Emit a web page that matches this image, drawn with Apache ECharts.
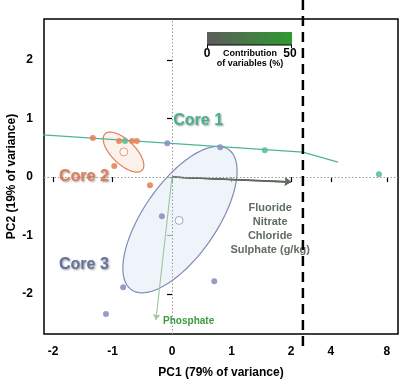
<!DOCTYPE html>
<html>
<head>
<meta charset="utf-8">
<script src="https://cdn.jsdelivr.net/npm/echarts@6/dist/echarts.min.js"></script>
<style>
  html, body { margin: 0; padding: 0; background: #fff; }
  #chart { width: 400px; height: 383px; }
</style>
</head>
<body>
<div id="chart"></div>
<script>
// PC1 / PC2 scores
const core1Points = [[-0.79, 0.615], [1.56, 0.46], [7.43, 0.05]];
const core2Points = [[-1.33, 0.667], [-0.89, 0.615], [-0.67, 0.615], [-0.59, 0.615], [-0.97, 0.19], [-0.37, -0.14]];
const core3Points = [[-0.08, 0.58], [0.81, 0.51], [-0.17, -0.67], [-0.82, -1.88], [0.71, -1.78], [-1.11, -2.34]];
const core2Centre = [[-0.81, 0.43]];
const core3Centre = [[0.12, -0.74]];
const core1Trend = [[-2.3, 0.73], [2.2, 0.427], [4.5, 0.256]];
// ellipses: centre x, centre y, semi-major, semi-minor, angle (deg)
const core2Ellipse = [-0.815, 0.427, 0.44, 0.2, -45];
const core3Ellipse = [0.134, -0.726, 1.45, 0.62, 56];
// loadings
const groupedVars = ['Fluoride', 'Nitrate', 'Chloride', 'Sulphate (g/kg)'];
const groupedEnds = [[2.0, -0.08], [2.0, -0.085], [1.99, -0.09], [2.0, -0.075]];
const phosphateEnd = [-0.27, -2.44];
const xTicks = [-2, -1, 0, 1, 2, 4, 8];
const yTicks = [-2, -1, 0, 1, 2];

// broken x axis: linear up to 2.2, compressed after it
const BREAK = 2.2;
const toU = v => v <= BREAK ? v : BREAK + (v - 2) * 0.2353;
const conv = arr => arr.map(p => [toU(p[0]), p[1]]);
const xTickU = xTicks.map(toU);

const font = 'Liberation Sans, Arial, sans-serif';
const chart = echarts.init(document.getElementById('chart'));

function ellipseItem(par, stroke, fill) {
  return function (params, api) {
    const pts = [];
    const t = par[4] * Math.PI / 180;
    for (let i = 0; i < 90; i++) {
      const a = i / 90 * Math.PI * 2;
      const x = par[2] * Math.cos(a), y = par[3] * Math.sin(a);
      pts.push(api.coord([par[0] + x * Math.cos(t) - y * Math.sin(t),
                          par[1] + x * Math.sin(t) + y * Math.cos(t)]));
    }
    return { type: 'polygon', shape: { points: pts },
             style: { fill: fill, stroke: stroke, lineWidth: 1.2 } };
  };
}

const option = {
  animation: false,
  grid: { left: 44, right: 2, top: 19, bottom: 49, show: true, borderColor: '#000', borderWidth: 1.5,
          containLabel: false, outerBoundsMode: 'none' },
  xAxis: {
    type: 'value', min: -2.151, max: 3.798,
    name: 'PC1 (79% of variance)', nameLocation: 'middle', nameGap: 33, nameMoveOverlap: false,
    nameTextStyle: { fontFamily: font, fontWeight: 'bold', fontSize: 12, color: '#000' },
    axisLine: { show: false },
    axisTick: { show: true, inside: false, length: 5, customValues: xTickU, lineStyle: { color: '#000', width: 1.2 } },
    axisLabel: { customValues: xTickU, margin: 12, fontFamily: font, fontWeight: 'bold', fontSize: 12, color: '#000',
      formatter: v => { const i = xTickU.findIndex(u => Math.abs(u - v) < 1e-6); return i >= 0 ? String(xTicks[i]) : ''; } },
    splitLine: { show: false }
  },
  yAxis: {
    type: 'value', min: -2.68, max: 2.70,
    name: 'PC2 (19% of variance)', nameLocation: 'middle', nameGap: 26, nameMoveOverlap: false,
    nameTextStyle: { fontFamily: font, fontWeight: 'bold', fontSize: 12, color: '#000' },
    axisLine: { show: false },
    axisTick: { show: true, inside: false, length: 5, customValues: yTicks, lineStyle: { color: '#000', width: 1.2 } },
    axisLabel: { customValues: yTicks, margin: 11, fontFamily: font, fontWeight: 'bold', fontSize: 12, color: '#000' },
    splitLine: { show: false }
  },
  series: [
    { type: 'custom', renderItem: ellipseItem(core3Ellipse, '#7f8cb4', 'rgba(232,238,248,0.7)'), data: [0], z: 1 },
    { type: 'custom', renderItem: ellipseItem(core2Ellipse, '#e0805f', 'rgba(252,236,226,0.7)'), data: [0], z: 1 },
    {
      type: 'line', data: conv(core1Trend), showSymbol: false, symbol: 'none', z: 2,
      lineStyle: { color: '#4db597', width: 1.3 },
      markLine: {
        silent: true, symbol: 'none', label: { show: false },
        lineStyle: { color: '#999', type: [1.5, 2], width: 1 },
        data: [{ xAxis: 0 }, { yAxis: 0 }]
      }
    },
    {
      type: 'lines', coordinateSystem: 'cartesian2d', z: 3,
      symbol: ['none', 'arrow'], symbolSize: [0, 6],
      lineStyle: { color: '#5e6b5e', width: 1.2, opacity: 1 },
      data: groupedEnds.map(e => ({ coords: [[0, 0], e] }))
    },
    {
      type: 'lines', coordinateSystem: 'cartesian2d', z: 3,
      symbol: ['none', 'arrow'], symbolSize: [0, 6],
      lineStyle: { color: '#9cc89c', width: 1.1, opacity: 1 },
      data: [{ coords: [[0, 0], phosphateEnd] }]
    },
    { type: 'scatter', data: conv(core2Points), symbolSize: 6, z: 4, itemStyle: { color: '#e8845e', opacity: 0.9 } },
    { type: 'scatter', data: conv(core3Points), symbolSize: 6, z: 4, itemStyle: { color: '#8892c4', opacity: 0.9 } },
    { type: 'scatter', data: conv(core1Points), symbolSize: 6, z: 4, itemStyle: { color: '#5cbf9f', opacity: 0.9 } },
    { type: 'scatter', data: core2Centre, symbolSize: 8, z: 4, itemStyle: { color: '#fff', borderColor: '#e0805f', borderWidth: 1 } },
    { type: 'scatter', data: core3Centre, symbolSize: 8, z: 4, itemStyle: { color: '#fff', borderColor: '#8892c4', borderWidth: 1 } }
  ]
};
chart.setOption(option);

// annotations placed from data coordinates
const px = (x, y) => chart.convertToPixel({ gridIndex: 0 }, [x, y]);
const breakX = px(BREAK, 0)[0];
const coreText = (txt, pos, color) => ({
  type: 'text', x: pos[0], y: pos[1], z: 20,
  style: { text: txt, fill: color, font: 'bold 16px ' + font, align: 'center', verticalAlign: 'middle',
           textShadowColor: 'rgba(0,0,0,0.4)', textShadowBlur: 2, textShadowOffsetX: 1, textShadowOffsetY: 1 }
});
const p1 = px(0.44, 0.96), p2 = px(-1.48, 0.0), p3 = px(-1.48, -1.5);
const lab = px(1.65, -0.4);
const ph = px(-0.15, -2.46);
chart.setOption({
  graphic: [
    coreText('Core 1', p1, '#46b08f'),
    coreText('Core 2', p2, '#e27d58'),
    coreText('Core 3', p3, '#66719f'),
    { type: 'text', x: lab[0], y: lab[1], z: 20,
      style: { text: groupedVars.join('\n'), fill: '#5f6e5f', font: 'bold 11px ' + font,
               align: 'center', verticalAlign: 'top', lineHeight: 14 } },
    { type: 'text', x: ph[0], y: ph[1], z: 20,
      style: { text: 'Phosphate', fill: '#3e9a3e', font: 'bold 10px ' + font, align: 'left', verticalAlign: 'middle' } },
    { type: 'line', z: 30, shape: { x1: breakX, y1: 0, x2: breakX, y2: 352 },
      style: { stroke: '#000', lineWidth: 2.5, lineDash: [10, 6] } },
    { type: 'rect', z: 20, shape: { x: 207, y: 32, width: 85, height: 13 },
      style: { fill: new echarts.graphic.LinearGradient(0, 0, 1, 0, [
        { offset: 0, color: '#5c5c5c' }, { offset: 1, color: '#2f9a2f' }]) } },
    { type: 'line', z: 21, shape: { x1: 207, y1: 45, x2: 292, y2: 45 }, style: { stroke: '#000', lineWidth: 1 } },
    { type: 'line', z: 21, shape: { x1: 207.5, y1: 45, x2: 207.5, y2: 48 }, style: { stroke: '#000', lineWidth: 1 } },
    { type: 'line', z: 21, shape: { x1: 291.5, y1: 45, x2: 291.5, y2: 48 }, style: { stroke: '#000', lineWidth: 1 } },
    { type: 'text', x: 207, y: 54, z: 21, style: { text: '0', fill: '#000', font: 'bold 12px ' + font, align: 'center', verticalAlign: 'middle' } },
    { type: 'text', x: 290, y: 54, z: 21, style: { text: '50', fill: '#000', font: 'bold 12px ' + font, align: 'center', verticalAlign: 'middle' } },
    { type: 'text', x: 250, y: 54, z: 21, style: { text: 'Contribution', fill: '#000', font: 'bold 9px ' + font, align: 'center', verticalAlign: 'middle' } },
    { type: 'text', x: 250, y: 64, z: 21, style: { text: 'of variables (%)', fill: '#000', font: 'bold 9px ' + font, align: 'center', verticalAlign: 'middle' } }
  ]
});
</script>
</body>
</html>
